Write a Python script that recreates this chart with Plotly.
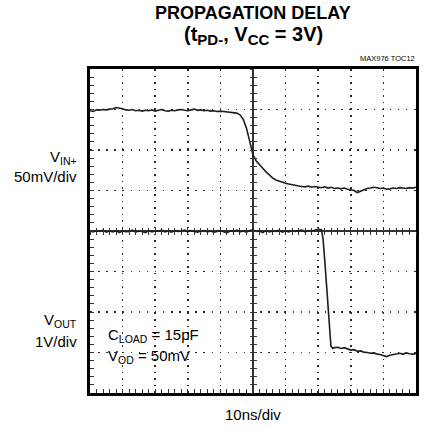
import plotly.graph_objects as go

# ---- data (time in ns, relative to the centre graticule; amplitude in divisions) ----
vin_t = list(range(-50, 51))
vin_div = [2.97, 2.95, 2.99, 2.98, 3.00, 2.99, 3.01, 3.02, 3.05, 3.04,
           3.02, 2.99, 2.98, 3.00, 2.97, 2.98, 2.96, 2.98, 2.97, 2.99,
           2.96, 2.98, 3.00, 2.97, 2.96, 2.98, 2.97, 2.99, 3.00, 2.98,
           2.97, 2.99, 3.01, 2.98, 2.99, 2.97, 2.98, 2.96, 2.97, 2.95,
           2.96, 2.95, 2.94, 2.93, 2.93, 2.91, 2.87, 2.76, 2.54, 2.24,
           1.88, 1.73, 1.63, 1.55, 1.46, 1.38, 1.31, 1.26, 1.23, 1.21,
           1.18, 1.16, 1.14, 1.13, 1.11, 1.10, 1.09, 1.11, 1.08, 1.10,
           1.09, 1.07, 1.09, 1.06, 1.08, 1.05, 1.06, 1.04, 1.06, 1.03,
           1.02, 1.00, 0.95, 0.99, 1.03, 1.05, 1.06, 1.08, 1.07, 1.05,
           1.06, 1.03, 1.04, 1.06, 1.05, 1.07, 1.06, 1.05, 1.07, 1.06,
           1.08]

vout_t = [-50, -49, -48, -47, -46, -45, -44, -43, -42, -41,
          -40, -39, -38, -37, -36, -35, -34, -33, -32, -31,
          -30, -29, -28, -27, -26, -25, -24, -23, -22, -21,
          -20, -19, -18, -17, -16, -15, -14, -13, -12, -11,
          -10, -9, -8, -7, -6, -5, -4, -3, -2, -1,
          0, 1, 2, 3, 4, 5, 6, 7, 8, 9,
          10, 11, 12, 13, 14, 15, 16, 17, 18, 19,
          20, 21, 21.5, 22.2, 22.9, 23.5, 23.9, 24.5, 25, 26,
          27, 28, 29, 30, 31, 32, 33, 34, 35, 36,
          37, 38, 39, 40, 41, 42, 43, 44, 45, 46,
          47, 48, 49, 50]
vout_div = [0.00, -0.02, 0.01, -0.01, 0.02, -0.03, 0.00, -0.02, 0.01, -0.04,
            0.00, -0.02, -0.01, 0.02, -0.03, 0.00, -0.01, -0.04, 0.01, -0.02,
            0.00, -0.01, 0.02, -0.02, 0.00, -0.03, 0.01, -0.01, 0.00, 0.02,
            -0.02, 0.01, -0.01, -0.03, 0.00, 0.01, -0.02, 0.00, -0.03, -0.01,
            0.01, -0.02, -0.04, 0.00, -0.01, 0.02, -0.02, 0.00, -0.03, 0.01,
            0.03, -0.01, 0.00, -0.04, 0.01, -0.02, 0.00, -0.01, 0.02, -0.03,
            0.00, -0.02, 0.01, -0.01, 0.00, 0.02, -0.02, 0.01, 0.00, 0.02,
            0.04, 0.03, -0.20, -0.93, -1.74, -2.40, -2.84, -2.90, -2.88, -2.87,
            -2.90, -2.88, -2.92, -2.94, -2.93, -2.97, -2.96, -2.99, -3.00, -3.02,
            -3.01, -3.04, -3.05, -3.08, -3.10, -3.07, -3.05, -3.04, -3.02, -3.04,
            -3.01, -3.03, -3.04, -3.03]

FONT = "Liberation Sans, Arial, sans-serif"
TRACE = "#1e1e1e"
GRID = "#2a2a2a"
TICK = "#333"

fig = go.Figure()
fig.add_trace(go.Scatter(x=vin_t, y=vin_div, mode="lines", name="VIN+",
                         line=dict(color=TRACE, width=1.6), showlegend=False,
                         hoverinfo="skip"))
fig.add_trace(go.Scatter(x=vout_t, y=vout_div, mode="lines", name="VOUT",
                         line=dict(color=TRACE, width=1.6), showlegend=False,
                         hoverinfo="skip"))
# empty traces that register the centre-graticule tick axes
fig.add_trace(go.Scatter(x=[], y=[], xaxis="x2", yaxis="y2", showlegend=False,
                         hoverinfo="skip"))
fig.add_trace(go.Scatter(x=[], y=[], xaxis="x3", yaxis="y3", showlegend=False,
                         hoverinfo="skip"))

common_axis = dict(showticklabels=False, showline=True, linecolor="black",
                   linewidth=3, mirror=True, zeroline=True, zerolinecolor="#333",
                   zerolinewidth=1.3, gridcolor=GRID, gridwidth=1.5,
                   ticks="inside", ticklen=4, tickcolor=TICK, tickwidth=1)

center_tick = dict(showticklabels=False, showgrid=False, zeroline=False,
                   showline=False, tickcolor=TICK, tickwidth=1, ticklen=3)

fig.update_layout(
    width=426, height=428,
    margin=dict(l=90, r=7, t=69, b=35),
    paper_bgcolor="white", plot_bgcolor="white",
    font=dict(family=FONT, color="black"),
    hovermode=False,
    xaxis=dict(range=[-50, 50], dtick=10, tick0=0,
               griddash="1.5px,5.08px",
               minor=dict(dtick=2, ticks="inside", ticklen=4, tickcolor=TICK,
                          showgrid=False),
               **common_axis),
    yaxis=dict(range=[-4, 4], dtick=1, tick0=0,
               griddash="1.5px,6.6px",
               minor=dict(dtick=0.2, ticks="inside", ticklen=4, tickcolor=TICK,
                          showgrid=False),
               **common_axis),
    xaxis2=dict(overlaying="x", anchor="free", position=0.5, range=[-50, 50],
                dtick=2, tick0=0, ticks="outside", **center_tick),
    xaxis3=dict(overlaying="x", anchor="free", position=0.5, range=[-50, 50],
                dtick=2, tick0=0, ticks="inside", **center_tick),
    yaxis2=dict(overlaying="y", anchor="free", position=0.5, range=[-4, 4],
                dtick=0.2, tick0=0, ticks="outside", **center_tick),
    yaxis3=dict(overlaying="y", anchor="free", position=0.5, range=[-4, 4],
                dtick=0.2, tick0=0, ticks="inside", **center_tick),
)

ann = []
ann.append(dict(text="<b>PROPAGATION DELAY</b>", xref="paper", yref="paper",
                x=0.5, y=1, xanchor="center", yanchor="middle", yshift=56,
                showarrow=False, font=dict(size=18, family=FONT)))
ann.append(dict(text="<b>(t<sub><span style='font-size:15px'>PD-</span></sub>, "
                     "V<sub><span style='font-size:15px'>CC</span></sub> = 3V)</b>",
                xref="paper", yref="paper",
                x=0.5, y=1, xanchor="center", yanchor="middle", yshift=34,
                showarrow=False, font=dict(size=20, family=FONT)))
ann.append(dict(text="MAX976 TOC12", xref="paper", yref="paper",
                x=1, y=1, xanchor="right", yanchor="bottom", yshift=4, xshift=1,
                showarrow=False, font=dict(size=7.5, family=FONT)))
# channel labels on the left
ann.append(dict(text="V<sub>IN+</sub>", xref="paper", yref="paper", x=0, y=1,
                xanchor="right", yanchor="middle", xshift=-11, yshift=-88,
                showarrow=False, align="right", font=dict(size=15, family=FONT)))
ann.append(dict(text="50mV/div", xref="paper", yref="paper", x=0, y=1,
                xanchor="right", yanchor="middle", xshift=-11, yshift=-107,
                showarrow=False, align="right", font=dict(size=15, family=FONT)))
ann.append(dict(text="V<sub>OUT</sub>", xref="paper", yref="paper", x=0, y=1,
                xanchor="right", yanchor="middle", xshift=-11, yshift=-251,
                showarrow=False, align="right", font=dict(size=15, family=FONT)))
ann.append(dict(text="1V/div", xref="paper", yref="paper", x=0, y=1,
                xanchor="right", yanchor="middle", xshift=-11, yshift=-272,
                showarrow=False, align="right", font=dict(size=15, family=FONT)))
# conditions inside the graticule
ann.append(dict(text="C<sub>LOAD</sub> = 15pF", xref="paper", yref="paper", x=0, y=1,
                xanchor="left", yanchor="middle", xshift=16, yshift=-266,
                showarrow=False, align="left", font=dict(size=15, family=FONT)))
ann.append(dict(text="V<sub>OD</sub> = 50mV", xref="paper", yref="paper", x=0, y=1,
                xanchor="left", yanchor="middle", xshift=16, yshift=-287,
                showarrow=False, align="left", font=dict(size=15, family=FONT)))
ann.append(dict(text="10ns/div", xref="paper", yref="paper", x=0.5, y=0,
                xanchor="center", yanchor="middle", yshift=-21,
                showarrow=False, font=dict(size=15, family=FONT)))
fig.update_layout(annotations=ann)

fig.write_html("out.html", config={"displayModeBar": False, "staticPlot": True},
               post_script="document.body.style.margin='0px';")
